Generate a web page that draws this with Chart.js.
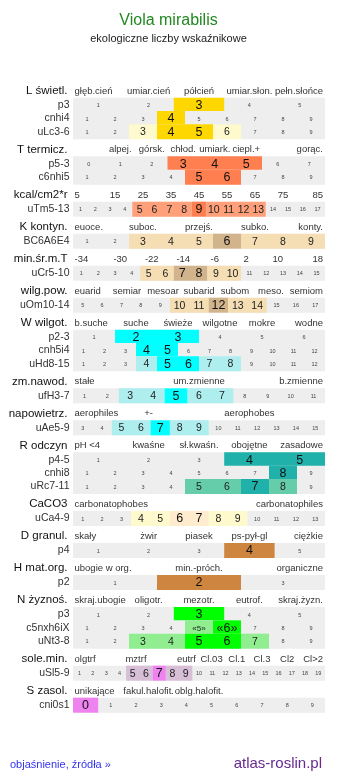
<!DOCTYPE html>
<html lang="pl">
<head>
<meta charset="utf-8">
<title>Viola mirabilis</title>
<script src="https://cdn.jsdelivr.net/npm/chart.js@4.4.1/dist/chart.umd.min.js"></script>
<style>
  html, body { margin: 0; padding: 0; background: #fff; }
  body { width: 337px; height: 781px; position: relative; overflow: hidden; font-family: Arial, "Liberation Sans", sans-serif; }
  #wrap { position: absolute; left: 0; top: 0; width: 337px; height: 781px; }
  .t { position: absolute; white-space: nowrap; line-height: 1; }
  #title { left: 0; width: 337px; text-align: center; top: 11.5px; font-size: 16px; color: #228822; }
  #sub { left: 0; width: 337px; text-align: center; top: 32.5px; font-size: 11px; color: #222; }
  #help { left: 10px; top: 759px; font-size: 11px; color: #3333ee; }
  #site { right: 15px; top: 754.5px; font-size: 15px; color: #66298f; }
</style>
</head>
<body>
<div id="wrap"><canvas id="chart" width="337" height="781"></canvas></div>
<div class="t" id="title">Viola mirabilis</div>
<div class="t" id="sub">ekologiczne liczby wskaźnikowe</div>
<div class="t" id="help">objaśnienie, źródła »</div>
<div class="t" id="site">atlas-roslin.pl</div>
<script>
// scales (one header per group)
const groupNames = ['L świetl.', 'T termicz.', 'kcal/cm2*r', 'K kontyn.', 'min.śr.m.T', 'wilg.pow.',
  'W wilgot.', 'zm.nawod.', 'napowietrz.', 'R odczyn', 'CaCO3', 'D granul.', 'H mat.org.',
  'N żyznoś.', 'sole.min.', 'S zasol.'];

// header words, evenly spread over the row; '' = empty slot
const groupWords = [
  ['głęb.cień', 'umiar.cień', 'półcień', 'umiar.słon.', 'pełn.słońce'],
  ['', 'alpej.', 'górsk.', 'chłod.', 'umiark.', 'ciepl.+', '', 'gorąc.'],
  ['5', '15', '25', '35', '45', '55', '65', '75', '85'],
  ['euoce.', '', 'suboc.', '', 'przejś.', '', 'subko.', '', 'konty.'],
  ['-34', '-30', '-22', '-14', '-6', '2', '10', '18'],
  ['euarid', 'semiar', 'mesoar', 'subarid', 'subom', 'meso.', 'semiom'],
  ['b.suche', 'suche', 'świeże', 'wilgotne', 'mokre', 'wodne'],
  ['stałe', 'um.zmienne', 'b.zmienne'],
  ['aerophiles', '+-', '', 'aerophobes', ''],
  ['pH <4', 'kwaśne', 'sł.kwaśn.', 'obojętne', 'zasadowe'],
  ['carbonatophobes', '', '', '', 'carbonatophiles'],
  ['skały', 'żwir', 'piasek', 'ps-pył-gl', 'ciężkie'],
  ['ubogie w org.', 'min.-próch.', 'organiczne'],
  ['skraj.ubogie', 'oligotr.', 'mezotr.', 'eutrof.', 'skraj.żyzn.'],
  ['olgtrf', '', 'mztrf', '', 'eutrf', 'Cl.03', 'Cl.1', 'Cl.3', 'Cl2', 'Cl>2'],
  ['unikające', 'fakul.halofit.', 'oblg.halofit.', '', '']
];

// indicator rows
const rowNames = ['p3', 'cnhi4', 'uLc3-6', 'p5-3', 'c6nhi5', 'uTm5-13', 'BC6A6E4', 'uCr5-10', 'uOm10-14',
  'p2-3', 'cnh5i4', 'uHd8-15', 'ufH3-7', 'uAe5-9', 'p4-5', 'cnhi8', 'uRc7-11', 'uCa4-9', 'p4', 'p2',
  'p3', 'c5nxh6iX', 'uNt3-8', 'uSl5-9', 'cni0s1'];
const rowGroup = [0, 0, 0, 1, 1, 2, 3, 4, 5, 6, 6, 6, 7, 8, 9, 9, 9, 10, 11, 12, 13, 13, 13, 14, 15];
const rowFirst = [1, 1, 1, 0, 1, 1, 1, 1, 5, 1, 1, 1, 1, 3, 1, 1, 1, 1, 1, 1, 1, 1, 1, 1, 0];
const rowCount = [5, 9, 9, 8, 9, 17, 9, 15, 13, 6, 12, 12, 11, 13, 5, 9, 9, 13, 5, 3, 5, 9, 9, 19, 10];
const rowStrong = [[3], [4], [4, 5], [3, 4, 5], [5, 6], [9], [6], [7, 8], [12], [2, 3], [4, 5], [5, 6], [5], [7],
  [4, 5], [8], [7], [6, 7], [4], [2], [3], [6], [5, 6], [7], [0]];
const rowLight = [[], [], [3, 6], [], [], [5, 6, 7, 8, 10, 11, 12, 13], [3, 4, 5, 7, 8, 9], [5, 6, 9, 10],
  [10, 11, 13, 14], [], [], [4, 7, 8], [3, 4, 6, 7], [5, 6, 8, 9], [], [], [5, 6, 8], [4, 5, 8, 9], [], [],
  [], [5], [3, 4, 7], [5, 6, 8, 9], []];
const quotedRows = ['c5nxh6iX'];

// colours: [light, strong] per group
const groupColors = [
  ['#fffacd', '#ffd700'], ['#ffa07a', '#ff7f50'], ['#ffa07a', '#ff7f50'], ['#f5deb3', '#d2b48c'],
  ['#f5deb3', '#d2b48c'], ['#f5deb3', '#d2b48c'], ['#afeeee', '#00ffff'], ['#afeeee', '#00ffff'],
  ['#afeeee', '#00ffff'], ['#66cdaa', '#20b2aa'], ['#fffacd', '#ffebcd'], ['#cd853f', '#cd853f'],
  ['#cd853f', '#cd853f'], ['#90ee90', '#00ff00'], ['#d8bfd8', '#ee82ee'], ['#d8bfd8', '#ee82ee']
];
const GRAY = '#eeeeee';
const FONT = 'Arial, "Liberation Sans", sans-serif';

// table layout (page px): first row top, row height, gap for a header line
const rowTop = [], headerTop = [];
let cursor = 62;
rowGroup.forEach((g, r) => {
  const newGroup = r === 0 || g !== rowGroup[r - 1];
  if (r > 0 && newGroup) cursor += 21;
  if (newGroup) headerTop[g] = cursor;
  rowTop.push(cursor);
  cursor += 15;
});

function level(r, v) {
  if (rowStrong[r].includes(v)) return 2;
  if (rowLight[r].includes(v)) return 1;
  return 0;
}

// bars: grey background of each row, then runs of highlighted cells
const bars = [], colors = [];
rowNames.forEach((name, r) => {
  const yc = rowTop[r] + 7.5;
  bars.push({ x: [0, 1], y: yc });
  colors.push(GRAY);
  const n = rowCount[r];
  let i = 0;
  while (i < n) {
    const lv = level(r, rowFirst[r] + i);
    if (!lv) { i++; continue; }
    let j = i;
    while (j + 1 < n && level(r, rowFirst[r] + j + 1) === lv) j++;
    bars.push({ x: [i / n, (j + 1) / n], y: yc });
    colors.push(groupColors[rowGroup[r]][lv - 1]);
    i = j + 1;
  }
});

const textPlugin = {
  id: 'tableText',
  afterDatasetsDraw(chart) {
    const { ctx, scales: { x, y } } = chart;
    const left = x.getPixelForValue(0), right = x.getPixelForValue(1);
    ctx.save();
    ctx.textBaseline = 'middle';

    groupNames.forEach((name, g) => {
      const hy = y.getPixelForValue(headerTop[g] - 8.5);
      ctx.fillStyle = '#111';
      ctx.font = '11.5px ' + FONT;
      ctx.textAlign = 'right';
      ctx.fillText(name, left - 5.5, hy);

      const words = groupWords[g];
      const m = words.length;
      ctx.font = '9.5px ' + FONT;
      ctx.fillStyle = '#333';
      words.forEach((w, i) => {
        if (!w) return;
        if (i === 0) { ctx.textAlign = 'left'; ctx.fillText(w, left + 1.5, hy); }
        else if (i === m - 1) { ctx.textAlign = 'right'; ctx.fillText(w, right - 2, hy); }
        else { ctx.textAlign = 'center'; ctx.fillText(w, x.getPixelForValue((i + 0.5) / m), hy); }
      });
    });

    rowNames.forEach((name, r) => {
      const yc = y.getPixelForValue(rowTop[r] + 7.5);
      ctx.textAlign = 'right';
      ctx.fillStyle = '#333';
      ctx.font = '10.5px ' + FONT;
      ctx.fillText(name, left - 3.5, yc);

      const n = rowCount[r];
      const quoted = quotedRows.includes(name);
      ctx.textAlign = 'center';
      for (let i = 0; i < n; i++) {
        const v = rowFirst[r] + i;
        const lv = level(r, v);
        const cx = x.getPixelForValue((i + 0.5) / n);
        let txt = String(v);
        if (lv === 2) { ctx.font = '12.5px ' + FONT; ctx.fillStyle = '#111'; }
        else if (lv === 1) { ctx.font = (quoted ? '8px ' : '10.5px ') + FONT; ctx.fillStyle = '#222'; }
        else { ctx.font = '5.5px ' + FONT; ctx.fillStyle = '#444'; }
        if (quoted && lv) txt = '«' + v + '»';
        ctx.fillText(txt, cx, yc + 0.5);
      }
    });
    ctx.restore();
  }
};

new Chart(document.getElementById('chart').getContext('2d'), {
  type: 'bar',
  data: {
    datasets: [{
      data: bars,
      backgroundColor: colors,
      borderWidth: 0,
      barThickness: 15,
      inflateAmount: 0
    }]
  },
  options: {
    indexAxis: 'y',
    responsive: false,
    devicePixelRatio: 1,
    animation: false,
    events: [],
    layout: { padding: { left: 73, right: 12, top: 0, bottom: 0 } },
    scales: {
      x: { type: 'linear', min: 0, max: 1, display: false },
      y: { type: 'linear', min: 0, max: 781, reverse: true, display: false }
    },
    plugins: { legend: { display: false }, tooltip: { enabled: false }, title: { display: false } }
  },
  plugins: [textPlugin]
});
</script>
</body>
</html>
